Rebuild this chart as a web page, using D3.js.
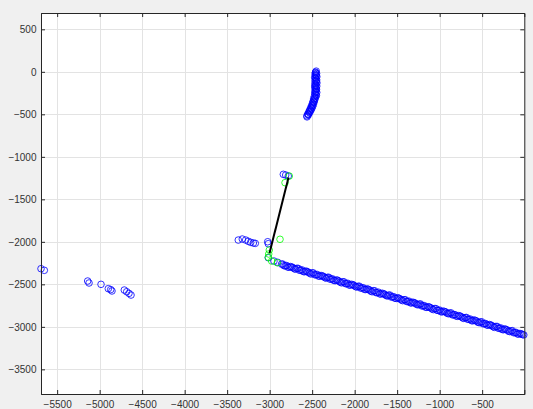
<!DOCTYPE html>
<html>
<head>
<meta charset="utf-8">
<script src="https://cdn.jsdelivr.net/npm/d3@7"></script>
<style>
  html, body { margin: 0; padding: 0; background: #f0f0f0; }
  svg { display: block; }
  text { font-family: "Liberation Sans", Arial, sans-serif; }
</style>
</head>
<body>
<svg id="chart" width="533" height="409"></svg>
<script>
// Axis limits and tick values
const xLimits = [-5690, -4];
const yLimits = [-3790, 692];
const xTicks = [-5500, -5000, -4500, -4000, -3500, -3000, -2500, -2000, -1500, -1000, -500];
const yTicks = [-3500, -3000, -2500, -2000, -1500, -1000, -500, 0, 500];

// Blue detections, grouped by cluster ([x, y])
const farLeftPts = [
  [-5690, -2316], [-5651, -2335],
  [-5141, -2461], [-5125, -2484],
  [-4984, -2500],
  [-4898, -2551], [-4870, -2562], [-4855, -2578],
  [-4710, -2567], [-4682, -2587], [-4655, -2606], [-4631, -2626]
];
const midLeftPts = [
  [-3369, -1979], [-3322, -1967], [-3282, -1979], [-3251, -1994],
  [-3223, -2006], [-3192, -2014], [-3169, -2018],
  [-3023, -1999], [-3016, -2022], [-3016, -2187]
];
const topPts = [[-2839, -1206], [-2811, -1214], [-2781, -1226]];
const arcPts = [
  [-2452, 8], [-2460, -5], [-2448, -20], [-2465, -30], [-2455, -45], [-2445, -58],
  [-2470, -65], [-2458, -80], [-2447, -95], [-2466, -105], [-2454, -118], [-2444, -130],
  [-2468, -140], [-2457, -155], [-2446, -168], [-2470, -178], [-2458, -190], [-2449, -205],
  [-2466, -215], [-2455, -228], [-2446, -242], [-2470, -250], [-2460, -265], [-2450, -280],
  [-2474, -290], [-2463, -305], [-2482, -318], [-2470, -330], [-2488, -345], [-2478, -358],
  [-2496, -370], [-2486, -385], [-2505, -398], [-2495, -410], [-2515, -420], [-2506, -435],
  [-2526, -445], [-2518, -458], [-2538, -470], [-2530, -482], [-2550, -495], [-2545, -508],
  [-2562, -518], [-2560, -530],
  [-2462, -12], [-2450, -38], [-2462, -72], [-2452, -110], [-2462, -160], [-2452, -198],
  [-2460, -236], [-2455, -272], [-2470, -312], [-2482, -352], [-2498, -392], [-2512, -428],
  [-2530, -462], [-2548, -500]
];
const trackPts = [
  [-2949, -2226], [-2905, -2241],
  [-2860, -2262], [-2830, -2281], [-2800, -2279], [-2770, -2298], [-2740, -2296],
  [-2710, -2316], [-2680, -2312], [-2650, -2334], [-2620, -2330], [-2590, -2352],
  [-2560, -2349], [-2530, -2368], [-2500, -2365], [-2470, -2387], [-2440, -2384],
  [-2410, -2404], [-2380, -2401], [-2350, -2421], [-2320, -2418], [-2290, -2439],
  [-2260, -2436], [-2230, -2457], [-2200, -2452], [-2170, -2474], [-2140, -2470],
  [-2110, -2491], [-2080, -2488], [-2050, -2509], [-2020, -2505], [-1990, -2526],
  [-1960, -2523], [-1930, -2544], [-1900, -2540], [-1870, -2561], [-1840, -2558],
  [-1810, -2580], [-1780, -2575], [-1750, -2597], [-1720, -2592], [-1690, -2614],
  [-1660, -2611], [-1630, -2631], [-1600, -2628], [-1570, -2649], [-1540, -2646],
  [-1510, -2666], [-1480, -2663], [-1450, -2684], [-1420, -2681], [-1390, -2701],
  [-1360, -2698], [-1330, -2719], [-1300, -2716], [-1270, -2736], [-1240, -2733],
  [-1210, -2754], [-1180, -2751], [-1150, -2771], [-1120, -2768], [-1090, -2789],
  [-1060, -2786], [-1030, -2806], [-1000, -2803], [-970, -2824], [-940, -2821],
  [-910, -2841], [-880, -2838], [-850, -2859], [-820, -2856], [-790, -2876],
  [-760, -2873], [-730, -2894], [-700, -2891], [-670, -2911], [-640, -2908],
  [-610, -2929], [-580, -2926], [-550, -2946], [-520, -2943], [-490, -2964],
  [-460, -2961], [-430, -2981], [-400, -2978], [-370, -2999], [-340, -2996],
  [-310, -3016], [-280, -3013], [-250, -3034], [-220, -3031], [-190, -3051],
  [-160, -3048], [-130, -3069], [-100, -3066], [-70, -3086], [-40, -3083], [-10, -3095]
];
const trackPts2 = [
  [-2845, -2262], [-2815, -2283], [-2785, -2298], [-2755, -2291], [-2725, -2304],
  [-2695, -2322], [-2665, -2312], [-2635, -2334], [-2605, -2349], [-2575, -2344],
  [-2545, -2358], [-2515, -2378], [-2485, -2366], [-2455, -2388], [-2425, -2403],
  [-2395, -2396], [-2365, -2408], [-2335, -2427], [-2305, -2417], [-2275, -2438],
  [-2245, -2454], [-2215, -2449], [-2185, -2463], [-2155, -2482], [-2125, -2471],
  [-2095, -2493], [-2065, -2508], [-2035, -2500], [-2005, -2513], [-1975, -2532],
  [-1945, -2522], [-1915, -2543], [-1885, -2559], [-1855, -2554], [-1825, -2567],
  [-1795, -2587], [-1765, -2576], [-1735, -2598], [-1705, -2612], [-1675, -2605],
  [-1645, -2618], [-1615, -2637], [-1585, -2626], [-1555, -2648], [-1525, -2664],
  [-1495, -2658], [-1465, -2672], [-1435, -2692], [-1405, -2681], [-1375, -2702],
  [-1345, -2717], [-1315, -2710], [-1285, -2723], [-1255, -2741], [-1225, -2731],
  [-1195, -2753], [-1165, -2769], [-1135, -2763], [-1105, -2777], [-1075, -2797],
  [-1045, -2785], [-1015, -2807], [-985, -2822], [-955, -2815], [-925, -2827],
  [-895, -2846], [-865, -2836], [-835, -2858], [-805, -2873], [-775, -2868],
  [-745, -2882], [-715, -2901], [-685, -2890], [-655, -2912], [-625, -2927],
  [-595, -2919], [-565, -2932], [-535, -2951], [-505, -2941], [-475, -2962],
  [-445, -2978], [-415, -2973], [-385, -2986], [-355, -3006], [-325, -2995],
  [-295, -3017], [-265, -3031], [-235, -3024], [-205, -3037], [-175, -3056],
  [-145, -3045], [-115, -3067], [-85, -3083], [-55, -3078], [-25, -3091]
];

// Green matched points
const greenPts = [
  [-2769, -1226], [-2819, -1304], [-2878, -1970],
  [-3004, -2096], [-3011, -2143], [-3016, -2182], [-2976, -2226], [-2910, -2246]
];

// Black connecting segment
const linkLine = [[-3002, -2135], [-2778, -1243]];

const svg = d3.select("#chart");
const plotLeft = 41, plotRight = 524.3, plotTop = 13, plotBottom = 394;

const x = d3.scaleLinear().domain(xLimits).range([plotLeft, plotRight]);
const y = d3.scaleLinear().domain(yLimits).range([plotBottom, plotTop]);

// Axes background
svg.append("rect")
  .attr("x", plotLeft).attr("y", plotTop)
  .attr("width", plotRight - plotLeft).attr("height", plotBottom - plotTop)
  .attr("fill", "#ffffff");

// Grid lines
const grid = svg.append("g").attr("stroke", "#e3e3e3").attr("stroke-width", 1);
grid.selectAll("line.gx").data(xTicks).join("line")
  .attr("x1", d => Math.round(x(d)) + 0.5).attr("x2", d => Math.round(x(d)) + 0.5)
  .attr("y1", plotTop).attr("y2", plotBottom);
grid.selectAll("line.gy").data(yTicks).join("line")
  .attr("y1", d => Math.round(y(d)) + 0.5).attr("y2", d => Math.round(y(d)) + 0.5)
  .attr("x1", plotLeft).attr("x2", plotRight);

// Markers
const r = 3.3;
function circles(data, color) {
  svg.append("g").selectAll("circle").data(data).join("circle")
    .attr("cx", d => x(d[0])).attr("cy", d => y(d[1]))
    .attr("r", r).attr("fill", "none")
    .attr("stroke", color).attr("stroke-width", 0.8);
}
circles(farLeftPts, "#0000ff");
circles(midLeftPts, "#0000ff");
circles(topPts, "#0000ff");
circles(arcPts, "#0000ff");
circles(trackPts, "#0000ff");
circles(trackPts2, "#0000ff");
circles(greenPts, "#00ff00");

svg.append("path")
  .attr("d", d3.line().x(d => x(d[0])).y(d => y(d[1]))(linkLine))
  .attr("fill", "none").attr("stroke", "#000000").attr("stroke-width", 2);

// Axes with inward ticks on all four sides
const tickLen = 4;
const axisColor = "#262626";
const xb = svg.append("g").attr("transform", `translate(0,${plotBottom})`)
  .call(d3.axisBottom(x).tickValues(xTicks).tickSize(-tickLen).tickPadding(7).tickFormat(d3.format("d")));
const xt = svg.append("g").attr("transform", `translate(0,${plotTop})`)
  .call(d3.axisTop(x).tickValues(xTicks).tickSize(-tickLen).tickFormat(""));
const yl = svg.append("g").attr("transform", `translate(${plotLeft},0)`)
  .call(d3.axisLeft(y).tickValues(yTicks).tickSize(-tickLen).tickPadding(4.5).tickFormat(d3.format("d")));
const yr = svg.append("g").attr("transform", `translate(${plotRight},0)`)
  .call(d3.axisRight(y).tickValues(yTicks).tickSize(-tickLen).tickFormat(""));

[xb, xt, yl, yr].forEach(g => {
  g.select(".domain").attr("stroke", axisColor).attr("stroke-width", 1);
  g.selectAll(".tick line").attr("stroke", axisColor);
  g.selectAll(".tick text").attr("fill", "#333333").attr("font-size", 10)
    .attr("font-family", "Liberation Sans, Arial, sans-serif");
});
</script>
</body>
</html>
